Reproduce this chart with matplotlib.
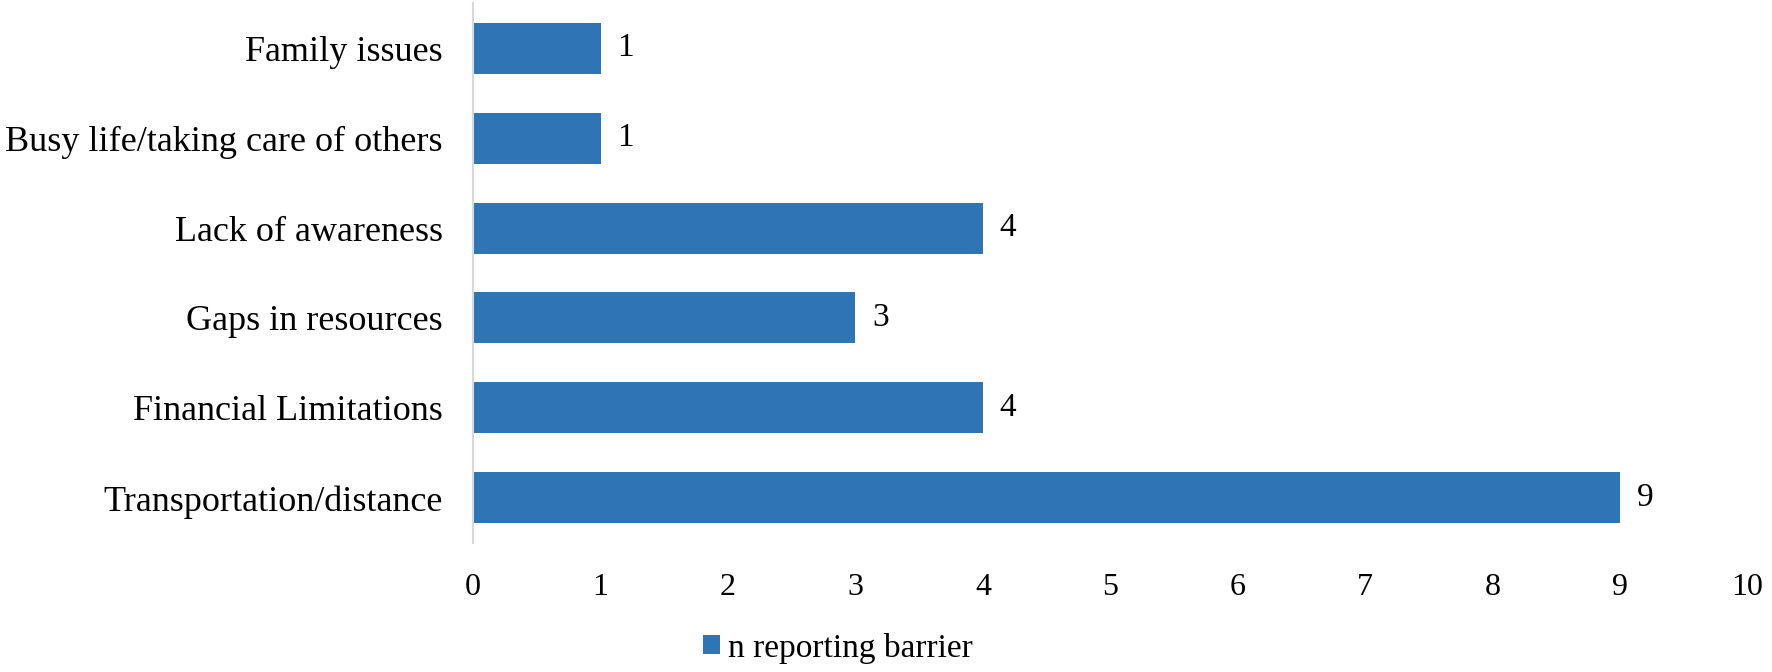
import matplotlib

matplotlib.use("Agg")
import matplotlib.pyplot as plt

plt.rcParams["font.family"] = ["Liberation Serif", "DejaVu Serif"]

# barriers, bottom to top as drawn
categories = [
    "Transportation/distance",
    "Financial Limitations",
    "Gaps in resources",
    "Lack of awareness",
    "Busy life/taking care of others",
    "Family issues",
]
n_reporting = [9, 4, 3, 4, 1, 1]
x_ticks = list(range(0, 11))
series_label = "n reporting barrier"

BAR = "#2E75B6"

fig = plt.figure(figsize=(17.72, 6.72), dpi=100)
ax = fig.add_axes([0.2670, 0.1924, 0.7192, 0.8028])

ypos = list(range(len(categories)))
bars = ax.barh(ypos, n_reporting, height=0.567, color=BAR, label=series_label)

for y, v in zip(ypos, n_reporting):
    ax.annotate(str(v), (v, y), xytext=(12, 0), textcoords="offset points",
                ha="left", va="center", fontsize=24, color="black")

ax.set_xlim(0, 10)
ax.set_ylim(-0.5, len(categories) - 0.5)
ax.set_xticks(x_ticks)
ax.set_xticklabels([str(t) for t in x_ticks], fontsize=23)
ax.set_yticks(ypos)
ax.set_yticklabels(categories, fontsize=26)
ax.tick_params(axis="x", length=0, pad=22)
ax.tick_params(axis="y", length=0, pad=22)

for s in ("top", "right", "bottom"):
    ax.spines[s].set_visible(False)
ax.spines["left"].set_color("#d9d9d9")
ax.spines["left"].set_linewidth(1.5)

fig.legend(handles=[bars], labels=[series_label], loc="center",
           bbox_to_anchor=(0.473, 0.0357), frameon=False, fontsize=24,
           handlelength=0.5, handleheight=0.5, handletextpad=0.25)

fig.savefig("out.png", dpi=100)
